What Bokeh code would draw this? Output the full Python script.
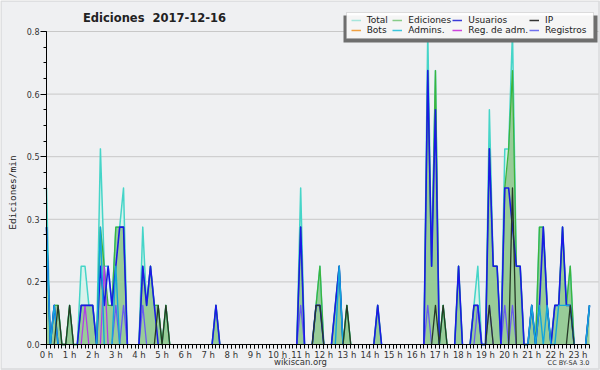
import math
import numpy as np
from bokeh.plotting import figure
from bokeh.models import (FixedTicker, CustomJSTickFormatter, Legend, LegendItem,
                          Label, BoxAnnotation, Range1d)
from bokeh.embed import file_html
from bokeh.resources import INLINE

# ---- data: edits per minute, 10-minute bins, one row per hour (6 bins) ----
total_rows = [
    [0.4, 0, 0.1, 0.1, 0, 0], [0.1, 0, 0, 0.2, 0.2, 0.1], [0.1, 0, 0.5, 0.2, 0.2, 0.1],
    [0.3, 0.3, 0.4, 0, 0, 0], [0, 0.3, 0.1, 0.2, 0.1, 0.1], [0, 0.1, 0, 0, 0, 0],
    [0, 0, 0, 0, 0, 0], [0, 0, 0.1, 0, 0, 0], [0, 0, 0, 0, 0, 0],
    [0, 0, 0, 0, 0, 0], [0, 0, 0, 0, 0, 0], [0.4, 0, 0, 0, 0.1, 0.2],
    [0, 0, 0, 0.1, 0.2, 0], [0.1, 0, 0, 0, 0, 0], [0, 0, 0.1, 0, 0, 0],
    [0, 0, 0, 0, 0, 0], [0, 0, 0, 0.8, 0.2, 0.7], [0, 0.1, 0, 0, 0, 0.2],
    [0, 0, 0, 0.1, 0.2, 0], [0, 0.6, 0.2, 0.2, 0, 0.5], [0.5, 0.8, 0.2, 0.2, 0, 0],
    [0.1, 0, 0.3, 0.3, 0.1, 0], [0.1, 0.1, 0.3, 0.1, 0.2, 0], [0, 0, 0, 0.1],
]
ediciones_rows = [
    [0.3, 0, 0.1, 0.1, 0, 0], [0.1, 0, 0, 0.1, 0.1, 0.1], [0.1, 0, 0.3, 0.2, 0.1, 0.1],
    [0.3, 0.3, 0.3, 0, 0, 0], [0, 0.2, 0.1, 0.2, 0.1, 0.1], [0, 0.1, 0, 0, 0, 0],
    [0, 0, 0, 0, 0, 0], [0, 0, 0.1, 0, 0, 0], [0, 0, 0, 0, 0, 0],
    [0, 0, 0, 0, 0, 0], [0, 0, 0, 0, 0, 0], [0.3, 0, 0, 0, 0.1, 0.2],
    [0, 0, 0, 0.1, 0.2, 0], [0.1, 0, 0, 0, 0, 0], [0, 0, 0.1, 0, 0, 0],
    [0, 0, 0, 0, 0, 0], [0, 0, 0, 0.7, 0.2, 0.7], [0, 0.1, 0, 0, 0, 0.2],
    [0, 0, 0, 0.1, 0.1, 0], [0, 0.5, 0.2, 0.2, 0, 0.4], [0.5, 0.7, 0.2, 0.2, 0, 0],
    [0.1, 0, 0.3, 0.3, 0.1, 0], [0.1, 0.1, 0.3, 0.1, 0.2, 0], [0, 0, 0, 0.1],
]
usuarios_rows = [
    [0.3, 0, 0.1, 0, 0, 0], [0, 0, 0, 0.1, 0.1, 0.1], [0.1, 0, 0.2, 0.1, 0.2, 0.1],
    [0.2, 0.3, 0.3, 0, 0, 0], [0, 0.2, 0.1, 0.2, 0.1, 0], [0, 0, 0, 0, 0, 0],
    [0, 0, 0, 0, 0, 0], [0, 0, 0.1, 0, 0, 0], [0, 0, 0, 0, 0, 0],
    [0, 0, 0, 0, 0, 0], [0, 0, 0, 0, 0, 0], [0.3, 0, 0, 0, 0.1, 0.1],
    [0, 0, 0, 0.1, 0.2, 0], [0, 0, 0, 0, 0, 0], [0, 0, 0.1, 0, 0, 0],
    [0, 0, 0, 0, 0, 0], [0, 0, 0, 0.7, 0.2, 0.6], [0, 0, 0, 0, 0, 0.2],
    [0, 0, 0, 0.1, 0.1, 0], [0, 0.5, 0.2, 0.2, 0, 0.4], [0.4, 0.3, 0.2, 0.2, 0, 0],
    [0.1, 0, 0.1, 0.3, 0.1, 0], [0.1, 0.1, 0.3, 0.1, 0.1, 0], [0, 0, 0, 0.1],
]
ip_rows = [
    [0, 0, 0, 0.1, 0, 0], [0.1, 0, 0, 0, 0, 0], [0, 0, 0, 0, 0, 0],
    [0, 0, 0, 0, 0, 0], [0, 0, 0, 0, 0, 0.1], [0, 0.1, 0, 0, 0, 0],
    [0, 0, 0, 0, 0, 0], [0, 0, 0, 0, 0, 0], [0, 0, 0, 0, 0, 0],
    [0, 0, 0, 0, 0, 0], [0, 0, 0, 0, 0, 0], [0, 0, 0, 0, 0.1, 0.1],
    [0, 0, 0, 0, 0, 0], [0.1, 0, 0, 0, 0, 0], [0, 0, 0, 0, 0, 0],
    [0, 0, 0, 0, 0, 0], [0, 0, 0, 0, 0, 0.1], [0, 0.1, 0, 0, 0, 0],
    [0, 0, 0, 0, 0, 0], [0, 0.1, 0, 0, 0, 0], [0, 0.4, 0, 0, 0, 0],
    [0, 0, 0, 0, 0, 0], [0, 0, 0, 0, 0.1, 0], [0, 0, 0, 0],
]
admins_rows = [
    [0.3, 0, 0.1, 0, 0, 0], [0, 0, 0, 0, 0, 0], [0, 0, 0.3, 0, 0, 0],
    [0.2, 0, 0, 0, 0, 0], [0, 0, 0, 0, 0, 0], [0, 0, 0, 0, 0, 0],
    [0, 0, 0, 0, 0, 0], [0, 0, 0, 0, 0, 0], [0, 0, 0, 0, 0, 0],
    [0, 0, 0, 0, 0, 0], [0, 0, 0, 0, 0, 0], [0, 0, 0, 0, 0, 0],
    [0, 0, 0, 0, 0.2, 0], [0, 0, 0, 0, 0, 0], [0, 0, 0, 0, 0, 0],
    [0, 0, 0, 0, 0, 0], [0, 0, 0, 0, 0, 0], [0, 0, 0, 0, 0, 0],
    [0, 0, 0, 0, 0, 0], [0, 0, 0, 0, 0, 0], [0, 0, 0, 0, 0, 0],
    [0.1, 0, 0.1, 0, 0.1, 0], [0, 0.1, 0.1, 0.1, 0.1, 0], [0, 0, 0, 0.1],
]
registros_rows = [
    [0, 0, 0, 0, 0, 0], [0, 0, 0, 0, 0, 0], [0, 0, 0, 0, 0, 0],
    [0.1, 0, 0.1, 0, 0, 0], [0, 0.1, 0, 0, 0, 0], [0, 0, 0, 0, 0, 0],
    [0, 0, 0, 0, 0, 0], [0, 0, 0, 0, 0, 0], [0, 0, 0, 0, 0, 0],
    [0, 0, 0, 0, 0, 0], [0, 0, 0, 0, 0, 0], [0.1, 0, 0, 0, 0, 0],
    [0, 0, 0, 0, 0, 0], [0, 0, 0, 0, 0, 0], [0, 0, 0, 0, 0, 0],
    [0, 0, 0, 0, 0, 0], [0, 0, 0, 0.1, 0, 0], [0, 0, 0, 0, 0, 0],
    [0, 0, 0, 0, 0.1, 0], [0, 0.1, 0, 0, 0, 0.1], [0, 0.1, 0, 0, 0, 0],
    [0, 0, 0, 0, 0, 0], [0, 0, 0, 0, 0, 0], [0, 0, 0, 0],
]
regadm_rows = [
    [0, 0, 0, 0, 0, 0], [0, 0, 0, 0, 0.1, 0], [0, 0, 0, 0.2, 0, 0],
] + [[0, 0, 0, 0, 0, 0]] * 20 + [[0, 0, 0, 0]]
bots_rows = [[0, 0, 0, 0, 0, 0]] * 23 + [[0, 0, 0, 0]]

x_tick_hours = list(range(24))
y_ticks = [0.0, 0.16, 0.32, 0.48, 0.64, 0.8]
y_minor = [0.0, 0.04, 0.08, 0.12, 0.16, 0.2, 0.24, 0.28, 0.32, 0.36, 0.4,
           0.44, 0.48, 0.52, 0.56, 0.6, 0.64, 0.68, 0.72, 0.76, 0.8]

legend_cols = [
    [("Total", "#a6e6dc"), ("Bots", "#f0a040")],
    [("Ediciones", "#88cc88"), ("Admins.", "#3cc6dc")],
    [("Usuarios", "#3a3ad8"), ("Reg. de adm.", "#cc44dd")],
    [("IP", "#333333"), ("Registros", "#7070ee")],
]


def flat(rows):
    return np.array([v for r in rows for v in r], dtype=float)


total = flat(total_rows)
ediciones = flat(ediciones_rows)
usuarios = flat(usuarios_rows)
ip = flat(ip_rows)
admins = flat(admins_rows)
registros = flat(registros_rows)
regadm = flat(regadm_rows)
bots = flat(bots_rows)
n = len(total)
hours = np.arange(n) / 6.0   # bin start, in hours


def masked(v):
    out = v.copy()
    for i in range(len(v)):
        left = v[i - 1] if i > 0 else 0
        right = v[i + 1] if i < len(v) - 1 else 0
        if v[i] == 0 and left == 0 and right == 0:
            out[i] = np.nan
    return out


# ---- geometry helpers (reference pixel -> data units, for decorations) ----
PX_H = 543 / 23.5
PX_U = 313 / 0.8


def dx(px):
    return (px - 46) / PX_H


def dy(py):
    return (344 - py) / PX_U


BG = "#eff0f2"
FONT = "DejaVu Sans"
W, H = 600, 370

# the frame covers the whole canvas; axes sit at fixed data locations
p = figure(width=W, height=H, output_backend="svg", toolbar_location=None,
           x_range=Range1d(dx(0), dx(W)), y_range=Range1d(dy(H), dy(0)),
           min_border=0, min_border_left=0, min_border_right=0,
           min_border_top=0, min_border_bottom=0,
           background_fill_color=BG, border_fill_color=BG,
           outline_line_color=None, title_location=None)

# outer frame of the image
p.add_layout(BoxAnnotation(left=dx(0.5), right=dx(W - 1.5), top=dy(0.5),
                           bottom=dy(H - 1.5), fill_alpha=0,
                           line_color="#a8a8a8", line_width=1.5))

# horizontal grid lines at the y ticks, from the axis to the right edge
p.xgrid.visible = False
p.ygrid.visible = False
p.segment(x0=0, x1=dx(598), y0=y_ticks[1:], y1=y_ticks[1:],
          line_color="#c8c8c8", line_width=1)

# axes
p.xaxis.fixed_location = 0
p.yaxis.fixed_location = 0
p.xaxis.ticker = FixedTicker(ticks=x_tick_hours, minor_ticks=list(hours))
p.xaxis.formatter = CustomJSTickFormatter(code="return tick.toFixed(0) + ' h'")
p.xaxis.bounds = (0, hours[-1])
p.yaxis.ticker = FixedTicker(ticks=y_ticks, minor_ticks=y_minor)
p.yaxis.formatter = CustomJSTickFormatter(code="return tick.toFixed(1)")
p.yaxis.bounds = (0, 0.8)
for ax in (p.xaxis, p.yaxis):
    ax.axis_line_color = "black"
    ax.major_tick_line_color = "black"
    ax.minor_tick_line_color = "black"
    ax.major_tick_in = 0
    ax.minor_tick_in = 0
    ax.major_label_text_font = FONT
    ax.major_label_text_color = "#333333"
p.xaxis.major_tick_out = 4
p.xaxis.minor_tick_out = 4
p.xaxis.major_label_standoff = 1
p.xaxis.major_label_text_font_size = "8.5px"
p.yaxis.major_tick_out = 6
p.yaxis.minor_tick_out = 3
p.yaxis.major_label_standoff = 1
p.yaxis.major_label_text_font_size = "8px"

# data
p.varea(x=hours, y1=0, y2=total, fill_color="#d9f2ec")
p.varea(x=hours, y1=0, y2=ediciones, fill_color="#98cc98")
common = dict(line_join="round")
p.line(hours, masked(total), line_color="#45d5c8", line_width=1.5, **common)
p.line(hours, masked(ediciones), line_color="#3cb43c", line_width=1.3, **common)
p.line(hours, masked(registros), line_color="#6a5cf0", line_width=1.3, **common)
p.line(hours, masked(regadm), line_color="#b23ce6", line_width=1.3, **common)
p.line(hours, masked(usuarios), line_color="#1a1ae6", line_width=1.6, **common)
p.line(hours, masked(admins), line_color="#12a6dc", line_width=1.4, **common)
p.line(hours, masked(ip), line_color="#263826", line_width=1.3, **common)

# legend box + shadow
p.add_layout(BoxAnnotation(left=dx(343), right=dx(597), top=dy(15), bottom=dy(42),
                           fill_color="#6e6e6e", fill_alpha=1, line_color=None))
p.add_layout(BoxAnnotation(left=dx(346), right=dx(593), top=dy(12), bottom=dy(38),
                           fill_color="white", fill_alpha=0.93,
                           line_color="#9a9a9a", line_width=1))

# legend-only swatches (the all-zero Bots series has no visible points)
blank = masked(bots)
col_x = [350.7, 392.3, 452.3, 529]
for cx, items in zip(col_x, legend_cols):
    litems = []
    for label, color in items:
        r = p.line(hours, blank, line_color=color, line_width=1.5)
        litems.append(LegendItem(label=label, renderers=[r]))
    leg = Legend(items=litems, location=(cx, H - 35), orientation="vertical",
                 border_line_alpha=0, background_fill_alpha=0, padding=0,
                 margin=0, spacing=0, glyph_width=10, glyph_height=8,
                 label_height=8, label_standoff=6, label_text_font=FONT,
                 label_text_font_size="9px", label_text_color="#222222")
    p.add_layout(leg, "center")

# texts
p.add_layout(Label(x=dx(154), y=dy(17), text="Ediciones\u00a0 2017-12-16",
                   text_font=FONT, text_font_style="bold", text_font_size="11.5px",
                   text_align="center", text_baseline="middle", text_color="#222222"))
p.add_layout(Label(x=dx(12), y=dy(192), text="Ediciones/min", angle=math.pi / 2,
                   text_font="DejaVu Sans Mono", text_font_size="9.5px",
                   text_align="center", text_baseline="middle", text_color="#222222"))
p.add_layout(Label(x=dx(300), y=dy(361), text="wikiscan.org", text_font=FONT,
                   text_font_size="8.5px", text_align="center",
                   text_baseline="middle", text_color="#333333"))
p.add_layout(Label(x=dx(589), y=dy(362), text="CC BY-SA 3.0", text_font=FONT,
                   text_font_size="6.5px", text_align="right",
                   text_baseline="middle", text_color="#333333"))

open("out.html", "w").write(file_html(p, INLINE))
